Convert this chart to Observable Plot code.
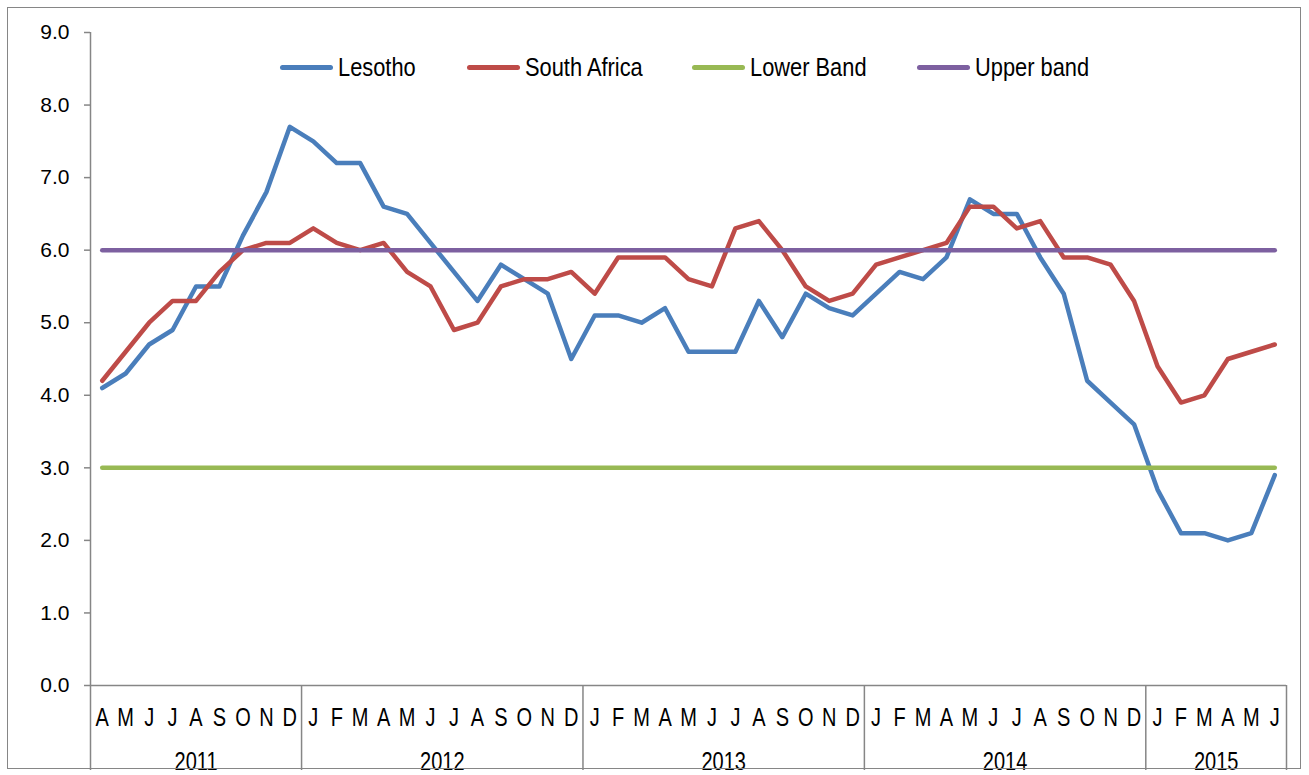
<!DOCTYPE html>
<html><head><meta charset="utf-8">
<script src="https://cdn.jsdelivr.net/npm/d3@7"></script>
<script src="https://cdn.jsdelivr.net/npm/@observablehq/plot@0.6"></script>
<style>
body{margin:0;background:#fff;font-family:"Liberation Sans",Arial,sans-serif;}
#wrap{position:relative;width:1309px;height:775px;overflow:hidden;}
#border{position:absolute;left:7px;top:7px;width:1294px;height:762px;border:1.5px solid #868686;pointer-events:none;box-sizing:border-box;}
.leg{position:absolute;top:53px;height:28px;display:flex;align-items:center;font-size:26px;color:#000;white-space:nowrap;}
.sw{width:53px;height:5px;border-radius:3px;margin-right:5px;flex:none;}
.lt{display:inline-block;transform:scaleX(0.84);transform-origin:0 50%;}
</style></head><body>
<div id="wrap"><div id="chart"></div><div id="legend"></div><div id="border"></div></div>
<script>
const monthLabels = [
  "A","M","J","J","A","S","O","N","D",
  "J","F","M","A","M","J","J","A","S","O","N","D",
  "J","F","M","A","M","J","J","A","S","O","N","D",
  "J","F","M","A","M","J","J","A","S","O","N","D",
  "J","F","M","A","M","J"
];
const years = ["2011","2012","2013","2014","2015"];
const yearCounts = [9, 12, 12, 12, 6];
const lesotho = [
  4.1,4.3,4.7,4.9,5.5,5.5,6.2,6.8,7.7,
  7.5,7.2,7.2,6.6,6.5,6.1,5.7,5.3,5.8,5.6,5.4,4.5,
  5.1,5.1,5.0,5.2,4.6,4.6,4.6,5.3,4.8,5.4,5.2,5.1,
  5.4,5.7,5.6,5.9,6.7,6.5,6.5,5.9,5.4,4.2,3.9,3.6,
  2.7,2.1,2.1,2.0,2.1,2.9
];
const southAfrica = [
  4.2,4.6,5.0,5.3,5.3,5.7,6.0,6.1,6.1,
  6.3,6.1,6.0,6.1,5.7,5.5,4.9,5.0,5.5,5.6,5.6,5.7,
  5.4,5.9,5.9,5.9,5.6,5.5,6.3,6.4,6.0,5.5,5.3,5.4,
  5.8,5.9,6.0,6.1,6.6,6.6,6.3,6.4,5.9,5.9,5.8,5.3,
  4.4,3.9,4.0,4.5,4.6,4.7
];
const lowerBand = 3.0;
const upperBand = 6.0;
const yTicks = [0,1,2,3,4,5,6,7,8,9];

const series = [
  {name: "Lesotho", color: "#4A7EBB", values: lesotho},
  {name: "South Africa", color: "#BE4B48", values: southAfrica},
  {name: "Lower Band", color: "#98B954", values: monthLabels.map(() => lowerBand)},
  {name: "Upper band", color: "#7D60A0", values: monthLabels.map(() => upperBand)}
];

// year groups
let start = 0;
const yearRows = [];
const bounds = [-0.5];
years.forEach((y, k) => {
  const n = yearCounts[k];
  yearRows.push({year: y, center: start + (n - 1) / 2});
  start += n;
  bounds.push(start - 0.5);
});
const monthRows = monthLabels.map((m, i) => ({i, m}));

const font = "Liberation Sans, Arial, sans-serif";
const chart = Plot.plot({
  width: 1309, height: 775,
  marginLeft: 90, marginRight: 23, marginTop: 32, marginBottom: 90,
  style: {fontFamily: font, fontSize: "21px", color: "#000", background: "transparent", overflow: "visible"},
  x: {domain: [-0.5, monthLabels.length - 0.5], axis: null},
  y: {domain: [0, 9]},
  marks: [
    Plot.axisY({ticks: yTicks, tickFormat: d => d.toFixed(1), tickSize: 6, tickPadding: 15, stroke: "#868686", strokeWidth: 1.5, label: null, fontSize: 21}),
    Plot.ruleX([-0.5], {stroke: "#868686", strokeWidth: 1.5}),
    Plot.ruleY([0], {stroke: "#868686", strokeWidth: 1.5}),
    Plot.ruleX(bounds, {x: d => d, y1: 0, y2: 0, insetBottom: -85, stroke: "#868686", strokeWidth: 1.5}),
    Plot.text(monthRows, {x: "i", text: "m", frameAnchor: "bottom", lineAnchor: "middle", dy: 32, fontSize: 25, fill: "#000"}),
    Plot.text(yearRows, {x: "center", text: "year", frameAnchor: "bottom", lineAnchor: "middle", dy: 76, fontSize: 25, fill: "#000"}),
    ...series.map(s => Plot.line(s.values.map((v, i) => ({i, v})), {
      x: "i", y: "v", stroke: s.color, strokeWidth: 4.5,
      strokeLinejoin: "round", strokeLinecap: "round"
    }))
  ]
});
document.getElementById("chart").appendChild(chart);

// condense the category labels horizontally (narrow font look)
const condensed = new Set([...monthLabels, ...years]);
chart.querySelectorAll("text").forEach(t => {
  if (!condensed.has(t.textContent.trim())) return;
  const tr = t.getAttribute("transform") || "";
  t.setAttribute("transform", `${tr} scale(0.8,1)`.trim());
});

const legendLeft = [280, 467, 692, 917];
const legend = document.getElementById("legend");
series.forEach((s, k) => {
  const item = document.createElement("div");
  item.className = "leg";
  item.style.left = legendLeft[k] + "px";
  item.innerHTML = `<span class="sw" style="background:${s.color}"></span><span class="lt">${s.name}</span>`;
  legend.appendChild(item);
});
</script>
</body></html>
